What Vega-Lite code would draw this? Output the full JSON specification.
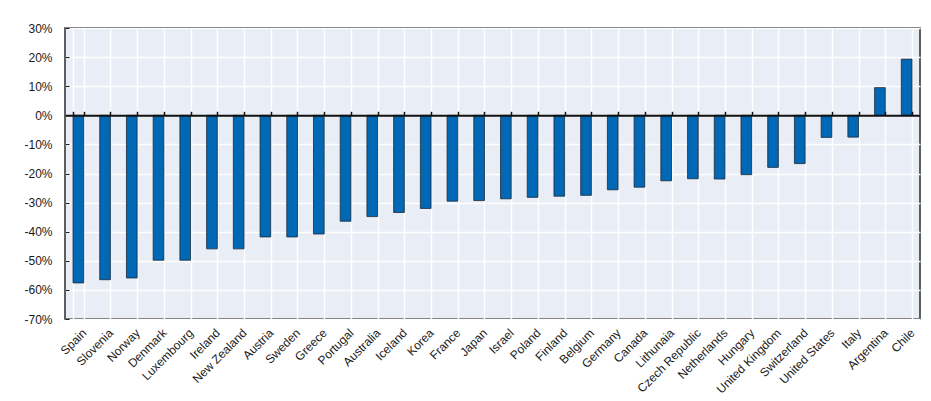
{
  "$schema": "https://vega.github.io/schema/vega-lite/v6.json",
  "autosize": "none",
  "width": 855,
  "height": 291,
  "padding": {"left": 65, "top": 28, "right": 11, "bottom": 82},
  "background": "white",
  "config": {
    "font": "Liberation Sans",
    "view": {"fill": "#e9edf6", "stroke": "#2b2b2b", "strokeWidth": 1.5},
    "axis": {"labelFont": "Liberation Sans", "labelFontSize": 12, "labelColor": "#1a1a1a"}
  },
  "data": {
    "values": [
      {"country": "Spain", "change": -57.6},
      {"country": "Slovenia", "change": -56.5},
      {"country": "Norway", "change": -55.9},
      {"country": "Denmark", "change": -49.8},
      {"country": "Luxembourg", "change": -49.8},
      {"country": "Ireland", "change": -45.9},
      {"country": "New Zealand", "change": -45.9},
      {"country": "Austria", "change": -41.8},
      {"country": "Sweden", "change": -41.8},
      {"country": "Greece", "change": -40.8},
      {"country": "Portugal", "change": -36.4},
      {"country": "Australia", "change": -34.8},
      {"country": "Iceland", "change": -33.4},
      {"country": "Korea", "change": -32.0},
      {"country": "France", "change": -29.5},
      {"country": "Japan", "change": -29.3},
      {"country": "Israel", "change": -28.7},
      {"country": "Poland", "change": -28.2},
      {"country": "Finland", "change": -27.8},
      {"country": "Belgium", "change": -27.5},
      {"country": "Germany", "change": -25.6},
      {"country": "Canada", "change": -24.7},
      {"country": "Lithunaia", "change": -22.5},
      {"country": "Czech Republic", "change": -21.8},
      {"country": "Netherlands", "change": -21.9},
      {"country": "Hungary", "change": -20.4},
      {"country": "United Kingdom", "change": -17.9},
      {"country": "Switzerland", "change": -16.6},
      {"country": "United States", "change": -7.6},
      {"country": "Italy", "change": -7.5},
      {"country": "Argentina", "change": 9.5},
      {"country": "Chile", "change": 19.3}
    ]
  },
  "encoding": {
    "x": {
      "field": "country",
      "type": "nominal",
      "sort": null,
      "scale": {"paddingInner": 0.6, "paddingOuter": 0.3}
    },
    "y": {
      "field": "change",
      "type": "quantitative",
      "scale": {"domain": [-70, 30], "nice": false},
      "axis": {
        "title": null,
        "values": [-70, -60, -50, -40, -30, -20, -10, 0, 10, 20, 30],
        "labelExpr": "datum.value + '%'",
        "domain": false,
        "tickSize": -4,
        "tickColor": "#1a1a1a",
        "labelPadding": 17,
        "grid": true,
        "gridColor": "white",
        "gridWidth": 1.5
      }
    }
  },
  "layer": [
    {
      "mark": {"type": "bar", "fill": "#0068b4", "stroke": "#1c2a3a", "strokeWidth": 0.8},
      "encoding": {
        "x": {
          "field": "country",
          "type": "nominal",
          "sort": null,
          "axis": {
            "title": null,
            "orient": "bottom",
            "labelAngle": -45,
            "labelAlign": "right",
            "labelBaseline": "top",
            "labelPadding": 8,
            "labelOffset": 2,
            "ticks": false,
            "domain": false,
            "tickBand": "extent",
            "grid": true,
            "gridColor": "white",
            "gridWidth": 1.5
          }
        }
      }
    },
    {
      "mark": {"type": "bar", "opacity": 0},
      "encoding": {
        "x": {
          "field": "country",
          "type": "nominal",
          "sort": null,
          "axis": {
            "title": null,
            "orient": "top",
            "offset": -87.3,
            "labels": false,
            "grid": false,
            "tickBand": "extent",
            "tickSize": 4,
            "tickColor": "#111",
            "tickWidth": 1.5,
            "domainColor": "#111",
            "domainWidth": 2,
            "zindex": 2
          }
        }
      }
    }
  ],
  "resolve": {"axis": {"x": "independent"}}
}
